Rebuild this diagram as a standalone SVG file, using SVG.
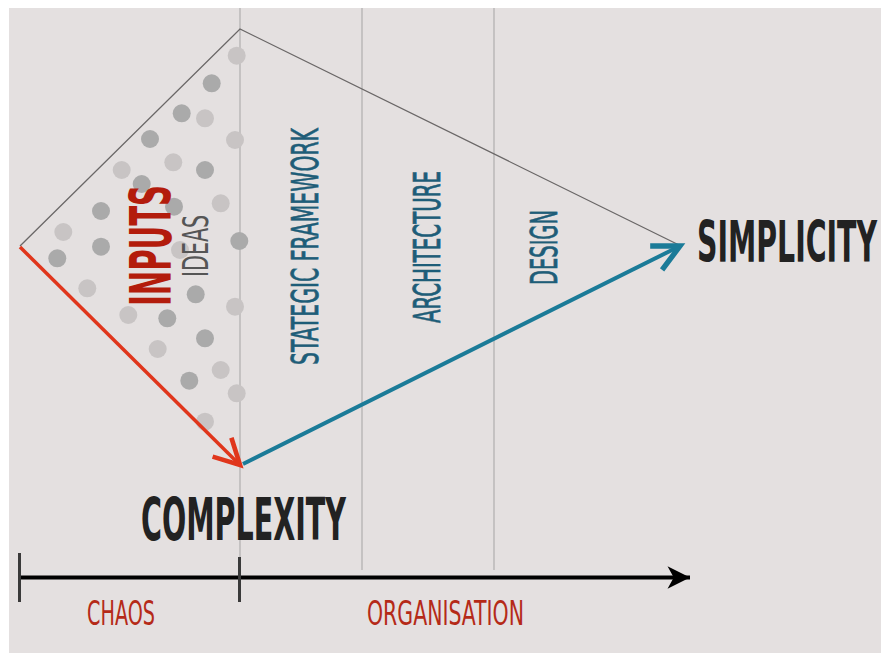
<svg xmlns="http://www.w3.org/2000/svg" width="881" height="653" viewBox="0 0 881 653">
<style>
.t{font-family:"DejaVu Sans Condensed","Liberation Sans Narrow","Liberation Sans",sans-serif}
.big{font-weight:bold;fill:#222}
.phase{fill:#1e5d78;stroke:#1e5d78;stroke-width:0.4}
.axl{fill:#b52a18}
.dk{fill:#aaaaaa}
.lt{fill:#c8c4c4}
.grid{stroke:#b0adad;stroke-width:1.2;fill:none}
</style>
<defs>
<marker id="ar" markerUnits="userSpaceOnUse" markerWidth="40" markerHeight="40" viewBox="-25 -15 30 30" refX="0" refY="0" orient="auto">
<path d="M-19,-10 L0,0 L-19,10" fill="none" stroke="#e0361c" stroke-width="3.5" stroke-linejoin="miter"/>
</marker>
<marker id="ab" markerUnits="userSpaceOnUse" markerWidth="40" markerHeight="40" viewBox="-25 -15 30 30" refX="0" refY="0" orient="auto">
<path d="M-20,-10 L0,0 L-20,10" fill="none" stroke="#1b7b98" stroke-width="4" stroke-linejoin="miter"/>
</marker>
<marker id="ak" markerUnits="userSpaceOnUse" markerWidth="30" markerHeight="30" viewBox="-20 -12 24 24" refX="0" refY="0" orient="auto">
<path d="M0,0 L-18,-9 L-13,0 L-18,9 Z" fill="#000"/>
</marker>
</defs>
<rect x="9" y="8" width="872" height="645" fill="#e4e0e0"/>
<g id="grid">
<line class="grid" x1="240" y1="8" x2="240" y2="600"/>
<line class="grid" x1="362" y1="8" x2="362" y2="570"/>
<line class="grid" x1="494" y1="8" x2="494" y2="570"/>
</g>
<g id="dots">
<circle class="lt" cx="236.7" cy="55.7" r="9"/>
<circle class="dk" cx="211.7" cy="83.3" r="9"/>
<circle class="dk" cx="181.7" cy="113.3" r="9"/>
<circle class="lt" cx="205" cy="118.3" r="9"/>
<circle class="lt" cx="235" cy="140" r="9"/>
<circle class="dk" cx="150" cy="139" r="9"/>
<circle class="lt" cx="173.3" cy="162.3" r="9"/>
<circle class="dk" cx="205" cy="170" r="9"/>
<circle class="lt" cx="121.7" cy="170" r="9"/>
<circle class="dk" cx="141.7" cy="184" r="9"/>
<circle class="lt" cx="220.7" cy="203.3" r="9"/>
<circle class="dk" cx="174" cy="206.7" r="9"/>
<circle class="dk" cx="101" cy="211" r="9"/>
<circle class="lt" cx="63.3" cy="232" r="9"/>
<circle class="dk" cx="239.3" cy="241" r="9"/>
<circle class="dk" cx="101" cy="246.7" r="9"/>
<circle class="dk" cx="57.3" cy="258.3" r="9"/>
<circle class="lt" cx="180" cy="250" r="9"/>
<circle class="lt" cx="87.3" cy="288.3" r="9"/>
<circle class="dk" cx="195.7" cy="294.3" r="9"/>
<circle class="lt" cx="235" cy="306.7" r="9"/>
<circle class="lt" cx="128.3" cy="315" r="9"/>
<circle class="dk" cx="167.3" cy="318.3" r="9"/>
<circle class="dk" cx="205" cy="338.3" r="9"/>
<circle class="lt" cx="157.7" cy="349" r="9"/>
<circle class="lt" cx="220.7" cy="370" r="9"/>
<circle class="dk" cx="189.3" cy="380.7" r="9"/>
<circle class="lt" cx="236.7" cy="393.3" r="9"/>
<circle class="lt" cx="205" cy="421.7" r="9"/>
</g>
<g id="connectors">
<polyline points="20,246 240,29 679,245" fill="none" stroke="#6a6767" stroke-width="1.3"/>
<line x1="20" y1="247" x2="240" y2="465" stroke="#e0361c" stroke-width="3.5" marker-end="url(#ar)"/>
<line x1="243" y1="464" x2="680" y2="246" stroke="#1b7b98" stroke-width="4" marker-end="url(#ab)"/>
</g>
<g id="axis">
<line x1="20" y1="577.5" x2="690" y2="577.5" stroke="#000" stroke-width="4" marker-end="url(#ak)"/>
<line x1="19.5" y1="553" x2="19.5" y2="602" stroke="#3a3a3a" stroke-width="3"/>
<line x1="239.5" y1="557" x2="239.5" y2="602" stroke="#3a3a3a" stroke-width="3"/>
</g>
<g id="inputs">
<text class="t" transform="translate(171,306) rotate(-90) scale(1,1.8)" font-size="32" font-weight="bold" fill="#b31c0c" textLength="121" lengthAdjust="spacingAndGlyphs">INPUTS</text>
</g>
<g id="ideas">
<text class="t" transform="translate(208,277) rotate(-90) scale(1,1.53)" font-size="22.8" fill="#555" textLength="62" lengthAdjust="spacingAndGlyphs">IDEAS</text>
</g>
<g id="strategic-framework">
<text class="t phase" transform="translate(318,365) rotate(-90) scale(1,1.67)" font-size="22.2" textLength="237" lengthAdjust="spacingAndGlyphs">STATEGIC FRAMEWORK</text>
</g>
<g id="architecture">
<text class="t phase" transform="translate(440,323) rotate(-90) scale(1,1.8)" font-size="20.6" textLength="152" lengthAdjust="spacingAndGlyphs">ARCHITECTURE</text>
</g>
<g id="design">
<text class="t phase" transform="translate(556.5,285) rotate(-90) scale(1,1.72)" font-size="21.5" textLength="75" lengthAdjust="spacingAndGlyphs">DESIGN</text>
</g>
<g id="simplicity">
<text class="t big" transform="translate(697,262) scale(1,1.83)" font-size="31.5" textLength="180" lengthAdjust="spacingAndGlyphs">SIMPLICITY</text>
</g>
<g id="complexity">
<text class="t big" transform="translate(141,540) scale(1,1.87)" font-size="31.6" textLength="205" lengthAdjust="spacingAndGlyphs">COMPLEXITY</text>
</g>
<g id="chaos">
<text class="t axl" transform="translate(87,625) scale(1,1.56)" font-size="21.2" textLength="68" lengthAdjust="spacingAndGlyphs">CHAOS</text>
</g>
<g id="organisation">
<text class="t axl" transform="translate(367,625) scale(1,1.47)" font-size="22.4" textLength="157" lengthAdjust="spacingAndGlyphs">ORGANISATION</text>
</g>
</svg>
